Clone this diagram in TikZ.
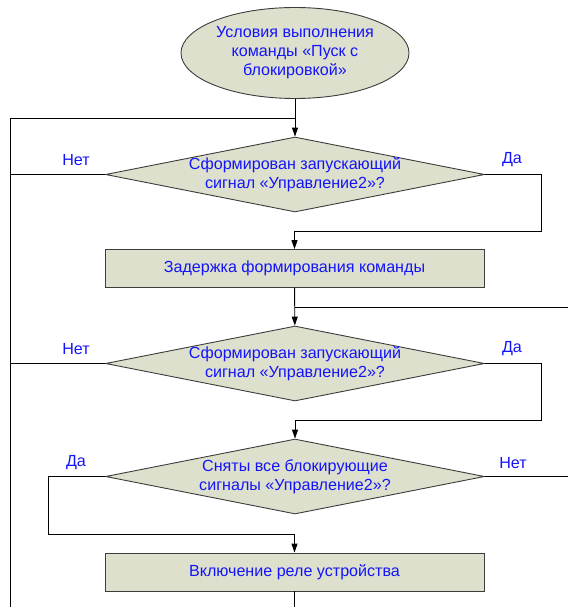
\documentclass[tikz,border=0pt]{standalone}
\usepackage{fontspec}
\setmainfont{Liberation Sans}
\usetikzlibrary{shapes.geometric,arrows.meta}
\definecolor{blockfill}{RGB}{221,224,204}
\definecolor{blocktext}{RGB}{20,20,250}
\definecolor{blockline}{RGB}{60,60,60}

\begin{document}
\begin{tikzpicture}[x=1pt, y=-1pt, line width=0.9pt,
  every node/.style={font=\fontsize{16.1}{18.9}\selectfont, text=blocktext, align=center},
  terminal/.style={ellipse, draw=blockline, fill=blockfill, minimum width=228pt, minimum height=91pt, inner sep=0pt},
  decision/.style={diamond, draw=blockline, fill=blockfill, minimum width=379pt, minimum height=75pt, inner xsep=-95pt, inner ysep=-17pt},
  process/.style={rectangle, draw=blockline, fill=blockfill, minimum width=379pt, minimum height=38pt, inner sep=0pt},
  arr/.style={-{Triangle[length=9pt, width=6pt]}}]
\useasboundingbox (0,0) rectangle (568,607);

\node[terminal] (start) at (295, 53) {Условия выполнения\\команды «Пуск с\\блокировкой»};
\node[decision] (q1) at (295, 174.5) {Сформирован запускающий\\сигнал «Управление2»?};
\node[process] (delay) at (294.5, 268.5) {Задержка формирования команды};
\node[decision] (q2) at (295, 363.5) {Сформирован запускающий\\сигнал «Управление2»?};
\node[decision] (q3) at (295, 476.5) {Сняты все блокирующие\\сигналы «Управление2»?};
\node[process] (relay) at (294.5, 572) {Включение реле устройства};

\node (no1) at (76, 160) {Нет};
\node (yes1) at (512, 160) {Да};
\node (no2) at (76, 349) {Нет};
\node (yes2) at (512, 349) {Да};
\node (yes3) at (76, 463) {Да};
\node (no3) at (513, 463) {Нет};

\coordinate (busTop) at (10, 118);
\coordinate (busBot) at (10, 607);
\coordinate (turn1) at (541, 231);
\coordinate (entry2) at (568, 307);
\coordinate (turn2) at (541, 420);
\coordinate (turn3) at (48, 534);
\coordinate (exit3) at (568, 476.5);
\coordinate (exit4) at (294.5, 607);

\draw[arr] (start) -- (q1);
\draw (busBot) -- (busTop) -- (busTop -| q1.north);
\draw (q1.west) -- (q1.west -| busTop);
\draw (q2.west) -- (q2.west -| busTop);

\draw[arr] (q1.east) -| (turn1) -| (delay.north);
\draw[arr] (delay) -- (q2);
\draw (entry2) -- (entry2 -| delay.south);

\draw[arr] (q2.east) -| (turn2) -| (q3.north);
\draw[arr] (q3.west) -| (turn3) -| (relay.north);
\draw (q3.east) -- (exit3);
\draw (relay) -- (exit4);

\end{tikzpicture}
\end{document}
